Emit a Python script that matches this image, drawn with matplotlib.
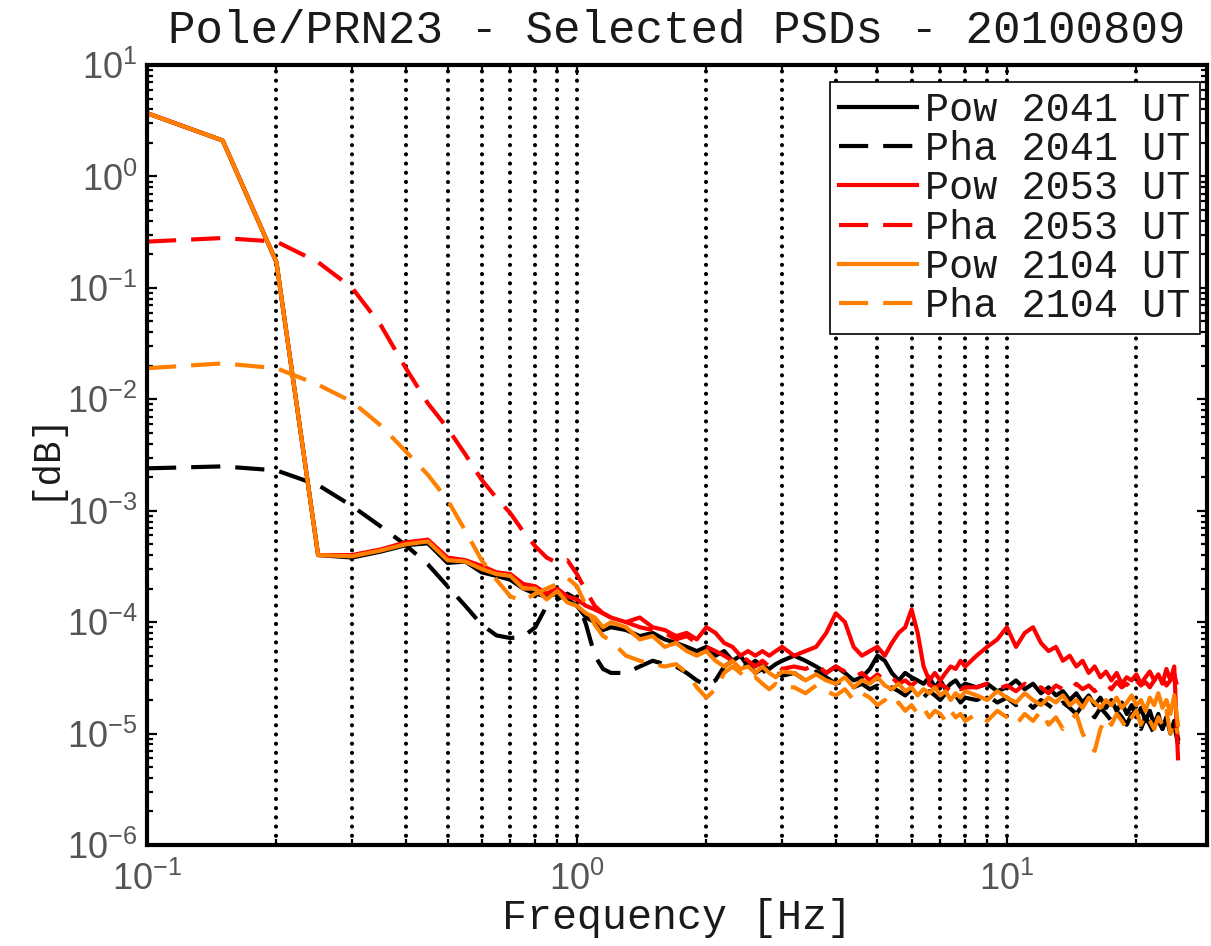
import matplotlib
matplotlib.use("Agg")
import matplotlib.pyplot as plt
from matplotlib.ticker import LogLocator, NullFormatter

# Frequency bins [Hz]
freq_hz = [
    0.10, 0.15, 0.20, 0.25, 0.30, 0.35, 0.40, 0.45, 0.50, 0.55, 0.60, 0.65,
    0.70, 0.75, 0.80, 0.85, 0.90, 0.95, 1.00, 1.05, 1.10, 1.15, 1.20,
    1.3, 1.4, 1.5, 1.6, 1.7, 1.8, 1.9, 2.0, 2.1, 2.2, 2.3, 2.4, 2.5, 2.6,
    2.7, 2.8, 2.9, 3.0,
    3.2, 3.4, 3.6, 3.8, 4.0, 4.2, 4.4, 4.6, 4.8, 5.0, 5.2, 5.4, 5.6, 5.8,
    6.0, 6.2, 6.4, 6.6, 6.8, 7.0, 7.2, 7.4, 7.6, 7.8, 8.0,
    8.5, 9.0, 9.5, 10.0, 10.5, 11.0, 11.5, 12.0, 12.5, 13.0, 13.5, 14.0,
    14.5, 15.0, 15.5, 16.0, 16.5, 17.0, 17.5, 18.0, 18.5, 19.0, 19.5, 20.0,
    20.5, 21.0, 21.5, 22.0, 22.5, 23.0, 23.5, 24.0, 24.5, 25.0,
]

# Power (amplitude) spectra
pow_2041 = [
    3.7, 2.1, 0.17, 4.0e-4, 3.8e-4, 4.3e-4, 4.9e-4, 5.1e-4, 3.4e-4, 3.5e-4,
    2.8e-4, 2.6e-4, 2.4e-4, 2.0e-4, 1.8e-4, 1.7e-4, 1.8e-4, 1.6e-4, 1.4e-4,
    1.1e-4, 1.0e-4, 8.5e-5, 9.0e-5,
    8.5e-5, 7.5e-5, 8.0e-5, 7.0e-5, 6.5e-5, 6.0e-5, 5.5e-5, 6.0e-5, 5.0e-5,
    5.5e-5, 4.5e-5, 5.0e-5, 4.0e-5, 4.5e-5, 4.0e-5, 3.8e-5, 4.2e-5, 4.5e-5,
    5.0e-5, 4.5e-5, 4.0e-5, 3.5e-5, 4.0e-5, 3.5e-5, 3.0e-5, 3.2e-5, 3.8e-5,
    5.0e-5, 4.5e-5, 3.5e-5, 3.0e-5, 3.5e-5, 3.2e-5, 3.0e-5, 2.8e-5, 3.2e-5,
    2.6e-5, 3.0e-5, 2.5e-5, 2.8e-5, 3.0e-5, 2.6e-5, 2.8e-5,
    2.6e-5, 2.8e-5, 2.4e-5, 2.6e-5, 3.0e-5, 2.5e-5, 2.8e-5, 2.3e-5, 2.6e-5,
    2.2e-5, 2.4e-5, 2.0e-5, 2.3e-5, 1.9e-5, 2.2e-5, 1.8e-5, 2.1e-5, 1.7e-5,
    2.0e-5, 1.6e-5, 1.9e-5, 1.5e-5, 1.8e-5, 1.4e-5, 1.7e-5, 1.3e-5, 1.6e-5,
    1.2e-5, 1.5e-5, 1.1e-5, 1.4e-5, 1.0e-5, 1.3e-5, 9.0e-6,
]
pow_2053 = [
    3.7, 2.1, 0.17, 4.0e-4, 4.0e-4, 4.5e-4, 5.2e-4, 5.5e-4, 3.8e-4, 3.6e-4,
    3.2e-4, 2.8e-4, 2.7e-4, 2.2e-4, 2.1e-4, 1.8e-4, 2.0e-4, 1.7e-4, 1.6e-4,
    1.4e-4, 1.3e-4, 1.2e-4, 1.1e-4,
    1.0e-4, 1.1e-4, 9.0e-5, 8.5e-5, 7.5e-5, 8.0e-5, 7.0e-5, 9.0e-5, 8.0e-5,
    6.5e-5, 6.0e-5, 5.0e-5, 5.5e-5, 5.0e-5, 5.5e-5, 5.0e-5, 5.5e-5, 6.0e-5,
    5.0e-5, 5.5e-5, 6.0e-5, 8.0e-5, 1.2e-4, 1.0e-4, 6.0e-5, 5.0e-5, 5.5e-5,
    6.0e-5, 5.0e-5, 6.5e-5, 8.0e-5, 9.0e-5, 1.3e-4, 8.0e-5, 4.0e-5, 3.0e-5,
    3.5e-5, 3.0e-5, 3.5e-5, 4.0e-5, 3.8e-5, 4.5e-5, 4.0e-5,
    5.0e-5, 6.0e-5, 7.0e-5, 9.0e-5, 6.0e-5, 8.0e-5, 9.0e-5, 6.5e-5, 5.5e-5,
    6.0e-5, 4.5e-5, 5.0e-5, 4.0e-5, 4.5e-5, 3.5e-5, 4.0e-5, 3.2e-5, 3.6e-5,
    3.0e-5, 3.5e-5, 2.8e-5, 3.2e-5, 3.0e-5, 3.4e-5, 2.8e-5, 3.2e-5, 3.6e-5,
    3.0e-5, 3.4e-5, 2.8e-5, 3.8e-5, 3.0e-5, 4.0e-5, 6.0e-6,
]
pow_2104 = [
    3.7, 2.1, 0.17, 4.0e-4, 3.9e-4, 4.4e-4, 5.0e-4, 5.3e-4, 3.6e-4, 3.5e-4,
    3.0e-4, 2.7e-4, 2.6e-4, 2.0e-4, 2.0e-4, 1.6e-4, 1.9e-4, 1.5e-4, 1.4e-4,
    1.2e-4, 1.1e-4, 9.0e-5, 1.0e-4,
    9.0e-5, 7.0e-5, 7.5e-5, 6.0e-5, 6.5e-5, 5.5e-5, 5.0e-5, 5.5e-5, 4.5e-5,
    4.0e-5, 4.5e-5, 3.8e-5, 4.0e-5, 3.5e-5, 4.0e-5, 3.5e-5, 3.2e-5, 3.6e-5,
    3.5e-5, 3.0e-5, 3.4e-5, 3.0e-5, 2.8e-5, 3.2e-5, 2.6e-5, 3.0e-5, 2.8e-5,
    3.2e-5, 2.7e-5, 2.5e-5, 2.8e-5, 2.4e-5, 2.6e-5, 2.2e-5, 2.5e-5, 2.3e-5,
    2.6e-5, 2.2e-5, 2.4e-5, 2.0e-5, 2.3e-5, 2.1e-5, 2.4e-5,
    2.2e-5, 2.0e-5, 2.4e-5, 2.1e-5, 1.9e-5, 2.3e-5, 2.0e-5, 1.8e-5, 2.1e-5,
    1.9e-5, 2.2e-5, 1.8e-5, 2.0e-5, 1.7e-5, 2.1e-5, 1.9e-5, 1.7e-5, 2.0e-5,
    1.8e-5, 2.1e-5, 1.7e-5, 1.9e-5, 2.2e-5, 1.8e-5, 2.0e-5, 1.6e-5, 2.1e-5,
    1.8e-5, 2.3e-5, 1.7e-5, 2.0e-5, 1.5e-5, 2.2e-5, 1.2e-5,
]

# Phase spectra
pha_2041 = [
    2.4e-3, 2.5e-3, 2.3e-3, 1.7e-3, 1.1e-3, 7.2e-4, 4.9e-4, 3.3e-4, 2.1e-4,
    1.4e-4, 9.5e-5, 7.6e-5, 7.2e-5, 7.4e-5, 9.0e-5, 1.4e-4, 1.6e-4, 1.8e-4,
    1.6e-4, 9.5e-5, 5.0e-5, 3.8e-5, 3.5e-5,
    3.5e-5, 4.0e-5, 4.5e-5, 4.2e-5, 4.0e-5, 3.5e-5, 3.0e-5, 2.7e-5, 3.0e-5,
    4.0e-5, 4.5e-5, 3.8e-5, 4.2e-5, 3.5e-5, 3.8e-5, 3.2e-5, 3.5e-5, 3.3e-5,
    3.5e-5, 3.0e-5, 3.6e-5, 3.2e-5, 2.8e-5, 3.0e-5, 2.6e-5, 2.8e-5, 2.5e-5,
    2.7e-5, 2.3e-5, 2.6e-5, 2.4e-5, 2.2e-5, 2.5e-5, 2.3e-5, 2.1e-5, 2.4e-5,
    2.2e-5, 2.0e-5, 2.3e-5, 2.1e-5, 2.2e-5, 1.9e-5, 2.1e-5,
    2.0e-5, 2.2e-5, 1.9e-5, 2.1e-5, 1.8e-5, 2.0e-5, 1.7e-5, 2.0e-5, 1.8e-5,
    1.6e-5, 1.9e-5, 1.7e-5, 1.5e-5, 1.8e-5, 1.6e-5, 1.4e-5, 1.7e-5, 1.5e-5,
    1.3e-5, 1.6e-5, 1.4e-5, 1.2e-5, 1.5e-5, 1.3e-5, 1.1e-5, 1.4e-5, 1.2e-5,
    1.0e-5, 1.3e-5, 1.1e-5, 1.4e-5, 1.0e-5, 1.2e-5, 8.0e-6,
]
pha_2053 = [
    0.26, 0.28, 0.26, 0.17, 0.10, 0.046, 0.019, 9.2e-3, 5.5e-3, 3.2e-3,
    1.9e-3, 1.3e-3, 9.5e-4, 6.5e-4, 4.8e-4, 3.8e-4, 3.4e-4, 3.6e-4, 2.7e-4,
    1.9e-4, 1.4e-4, 1.2e-4, 1.1e-4,
    1.0e-4, 9.0e-5, 8.5e-5, 8.0e-5, 7.0e-5, 7.5e-5, 6.5e-5, 6.0e-5, 5.5e-5,
    5.0e-5, 4.5e-5, 5.0e-5, 4.5e-5, 4.0e-5, 4.5e-5, 4.0e-5, 4.2e-5, 3.8e-5,
    4.0e-5, 3.8e-5, 4.2e-5, 3.5e-5, 4.0e-5, 3.6e-5, 3.2e-5, 3.5e-5, 3.0e-5,
    3.4e-5, 3.0e-5, 3.2e-5, 2.8e-5, 3.0e-5, 2.7e-5, 3.0e-5, 2.6e-5, 2.8e-5,
    2.5e-5, 2.8e-5, 2.6e-5, 2.4e-5, 2.7e-5, 2.5e-5, 2.6e-5,
    2.6e-5, 2.8e-5, 2.5e-5, 2.7e-5, 2.4e-5, 2.8e-5, 2.5e-5, 2.6e-5, 2.3e-5,
    2.7e-5, 2.5e-5, 2.4e-5, 2.8e-5, 2.5e-5, 2.7e-5, 2.4e-5, 2.6e-5, 2.8e-5,
    2.5e-5, 2.9e-5, 2.6e-5, 2.8e-5, 2.5e-5, 3.0e-5, 2.7e-5, 2.9e-5, 2.6e-5,
    3.0e-5, 2.8e-5, 3.2e-5, 2.7e-5, 3.0e-5, 3.4e-5, 2.5e-5,
]
pha_2104 = [
    0.019, 0.021, 0.019, 0.0135, 9.5e-3, 5.8e-3, 3.4e-3, 2.1e-3, 1.25e-3,
    6.6e-4, 3.6e-4, 2.4e-4, 1.7e-4, 1.55e-4, 1.8e-4, 2.0e-4, 2.2e-4, 2.5e-4,
    2.1e-4, 1.4e-4, 9.5e-5, 7.5e-5, 6.8e-5,
    5.0e-5, 4.5e-5, 4.2e-5, 4.0e-5, 4.2e-5, 3.5e-5, 2.6e-5, 2.1e-5, 2.5e-5,
    3.5e-5, 4.0e-5, 3.5e-5, 3.0e-5, 3.2e-5, 2.8e-5, 2.5e-5, 2.8e-5, 2.6e-5,
    2.6e-5, 2.3e-5, 2.7e-5, 2.4e-5, 2.2e-5, 2.5e-5, 2.0e-5, 2.3e-5, 2.1e-5,
    1.8e-5, 2.0e-5, 1.7e-5, 1.9e-5, 1.6e-5, 1.8e-5, 1.5e-5, 1.7e-5, 1.4e-5,
    1.6e-5, 1.5e-5, 1.3e-5, 1.6e-5, 1.4e-5, 1.5e-5, 1.3e-5,
    1.5e-5, 1.3e-5, 1.6e-5, 1.4e-5, 1.2e-5, 1.5e-5, 1.3e-5, 1.6e-5, 1.2e-5,
    1.4e-5, 1.1e-5, 1.3e-5, 1.5e-5, 1.0e-5, 8.0e-6, 7.0e-6, 1.1e-5, 1.4e-5,
    1.2e-5, 1.5e-5, 1.3e-5, 1.1e-5, 1.4e-5, 1.6e-5, 1.2e-5, 1.5e-5, 1.3e-5,
    1.1e-5, 1.4e-5, 1.2e-5, 1.6e-5, 1.0e-5, 1.3e-5, 1.0e-5,
]

series_labels = ["Pow 2041 UT", "Pha 2041 UT", "Pow 2053 UT",
                 "Pha 2053 UT", "Pow 2104 UT", "Pha 2104 UT"]
series_values = [pow_2041, pha_2041, pow_2053, pha_2053, pow_2104, pha_2104]
series_colors = ["#000000", "#000000", "#ff0000", "#ff0000",
                 "#ff8000", "#ff8000"]
series_dashed = [False, True, False, True, False, True]

title_text = "Pole/PRN23 - Selected PSDs - 20100809"
x_label = "Frequency [Hz]"
y_label = "[dB]"

MONO = "Liberation Mono"
plt.rcParams["font.family"] = ["Liberation Sans", "DejaVu Sans"]

fig = plt.figure(figsize=(12.11, 9.46), dpi=100)
W, H = 1211.0, 946.0
left, right, top, bottom = 147, 1207, 65, 845
ax = fig.add_axes([left / W, 1 - bottom / H, (right - left) / W,
                   (bottom - top) / H])

for vals, lab, col, dashed in zip(series_values, series_labels,
                                  series_colors, series_dashed):
    ls = (0, (7.0, 3.6)) if dashed else "-"
    ax.plot(freq_hz, vals, color=col, lw=3.0, linestyle=ls, label=lab,
            solid_joinstyle="round", dash_capstyle="butt")

ax.set_xscale("log")
ax.set_yscale("log")
ax.set_xlim(0.1, 29.2)
ax.set_ylim(1e-6, 10)

ax.xaxis.set_major_locator(LogLocator(base=10, numticks=10))
ax.xaxis.set_minor_locator(LogLocator(base=10, subs=range(2, 10), numticks=20))
ax.yaxis.set_major_locator(LogLocator(base=10, numticks=10))
ax.yaxis.set_minor_locator(LogLocator(base=10, subs=range(2, 10), numticks=20))
ax.xaxis.set_minor_formatter(NullFormatter())
ax.yaxis.set_minor_formatter(NullFormatter())

# Dotted frequency grid with round dots
ax.xaxis.grid(True, which="both", color="black", linewidth=3.0,
              linestyle=(0, (0.01, 2.2)), dash_capstyle="round")

ax.tick_params(which="both", direction="in", top=True, right=True,
               width=1.6, color="black", labelsize=26, labelcolor="#555555")
ax.tick_params(which="major", length=7.5)
ax.tick_params(which="minor", length=4)
ax.tick_params(axis="y", which="major", pad=7)
ax.tick_params(axis="x", which="major", pad=12)

for sp in ax.spines.values():
    sp.set_linewidth(3.0)
    sp.set_color("black")

ax.set_title(title_text, family=MONO, fontsize=33, pad=16, color="#1a1a1a")
ax.set_xlabel(x_label, family=MONO, fontsize=30, labelpad=0, color="#1a1a1a")
ax.set_ylabel(y_label, family=MONO, fontsize=27, labelpad=4, color="#1a1a1a")

leg = ax.legend(loc="upper right", bbox_to_anchor=(0.993, 0.978),
                borderaxespad=0, prop={"family": MONO, "size": 29},
                handlelength=1.95, handletextpad=0.2, labelspacing=0.03,
                borderpad=0.22, fancybox=False, framealpha=1,
                edgecolor="black")
leg.get_frame().set_linewidth(1.2)
for t in leg.get_texts():
    t.set_color("#1a1a1a")

fig.savefig("out.png", dpi=100)
